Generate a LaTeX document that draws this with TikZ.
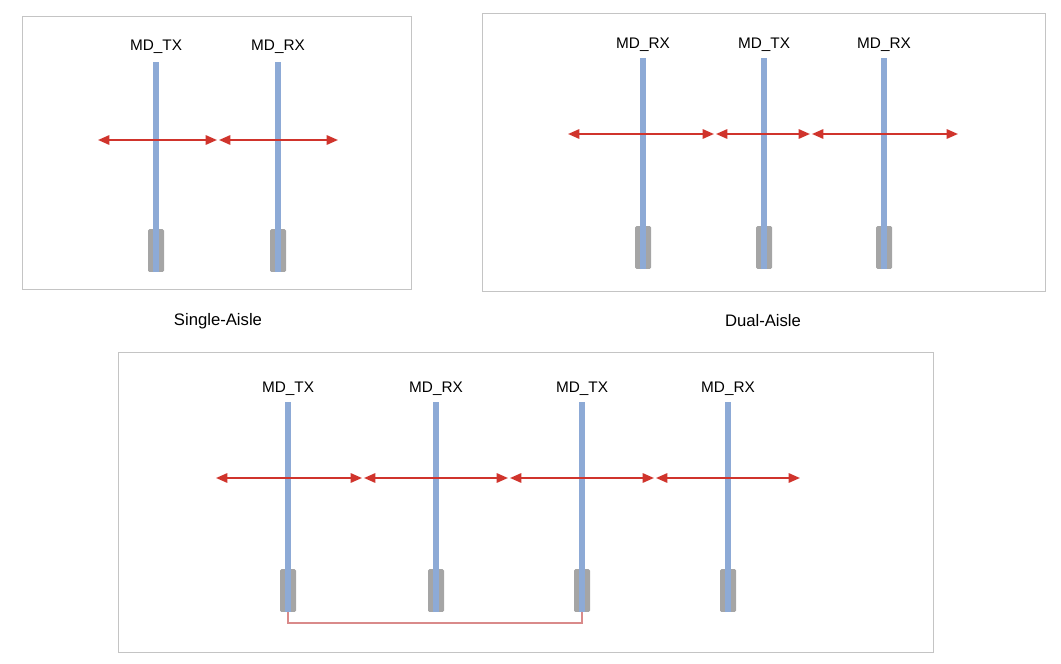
\documentclass[tikz,border=0pt]{standalone}
\usepackage{fontspec}
\setmainfont{Liberation Sans}
\usetikzlibrary{arrows.meta}
\definecolor{barblue}{HTML}{8DAAD6}
\definecolor{boxgray}{HTML}{A5A5A5}
\definecolor{linkred}{HTML}{D0342C}
\definecolor{pairred}{HTML}{D98A8A}
\definecolor{framegray}{HTML}{C4C4C4}
\begin{document}
\begin{tikzpicture}[x=0.75pt,y=-0.75pt,
    frame/.style={draw=framegray,line width=0.75pt},
    lbl/.style={font=\fontsize{11.5}{13}\selectfont,inner sep=0pt},
    paneltitle/.style={font=\fontsize{12.5}{14}\selectfont,inner sep=0pt},
    plug/.style={fill=boxgray,draw=none,rounded corners=1pt,minimum width=12pt,minimum height=32pt,inner sep=0pt},
    rod/.style={barblue,line width=5pt},
    link/.style={linkred,line width=1.5pt,
      {Triangle[length=8.5pt,width=7pt]}-{Triangle[length=8.5pt,width=7pt]}},
    pair/.style={pairred,line width=1pt}]
\useasboundingbox (0,0) rectangle (1061,664);

% Single-Aisle
\draw[frame] (22,16) rectangle (411,289);
\foreach \n/\x/\t in {a1/156/TX, a2/278/RX} {
    \node[lbl] (\n lab) at (\x,47) {MD\_\t};
    \node[plug] (\n box) at (\x,250.5) {};
    \draw[rod] (\n box.south) -- (\n box.south |- 0,62);
}
\foreach \i/\a/\b in {1/98/217, 2/219/338} {
    \coordinate (aL\i) at (\a,140);
    \coordinate (aR\i) at (\b,140);
    \draw[link] (aL\i) -- (aR\i);
}
\node[paneltitle] (single) at (218,321) {Single-Aisle};

% Dual-Aisle
\draw[frame] (482,13) rectangle (1045,291);
\foreach \n/\x/\t in {b1/643/RX, b2/764/TX, b3/884/RX} {
    \node[lbl] (\n lab) at (\x,45) {MD\_\t};
    \node[plug] (\n box) at (\x,247.5) {};
    \draw[rod] (\n box.south) -- (\n box.south |- 0,58);
}
\foreach \i/\a/\b in {1/568/714, 2/716/810, 3/812/958} {
    \coordinate (bL\i) at (\a,134);
    \coordinate (bR\i) at (\b,134);
    \draw[link] (bL\i) -- (bR\i);
}
\node[paneltitle] (dual) at (763,321) {Dual-Aisle};

% vier Antennen, TX-Paar verbunden
\draw[frame] (118,352) rectangle (933,652);
\foreach \n/\x/\t in {c1/288/TX, c2/436/RX, c3/582/TX, c4/728/RX} {
    \node[lbl] (\n lab) at (\x,389) {MD\_\t};
    \node[plug] (\n box) at (\x,590.5) {};
    \draw[rod] (\n box.south) -- (\n box.south |- 0,402);
}
\foreach \i/\a/\b in {1/216/362, 2/364/508, 3/510/654, 4/656/800} {
    \coordinate (cL\i) at (\a,478);
    \coordinate (cR\i) at (\b,478);
    \draw[link] (cL\i) -- (cR\i);
}
\draw[pair] (c1box.south) -- ++(0,11) -| (c3box.south);
\end{tikzpicture}
\end{document}
